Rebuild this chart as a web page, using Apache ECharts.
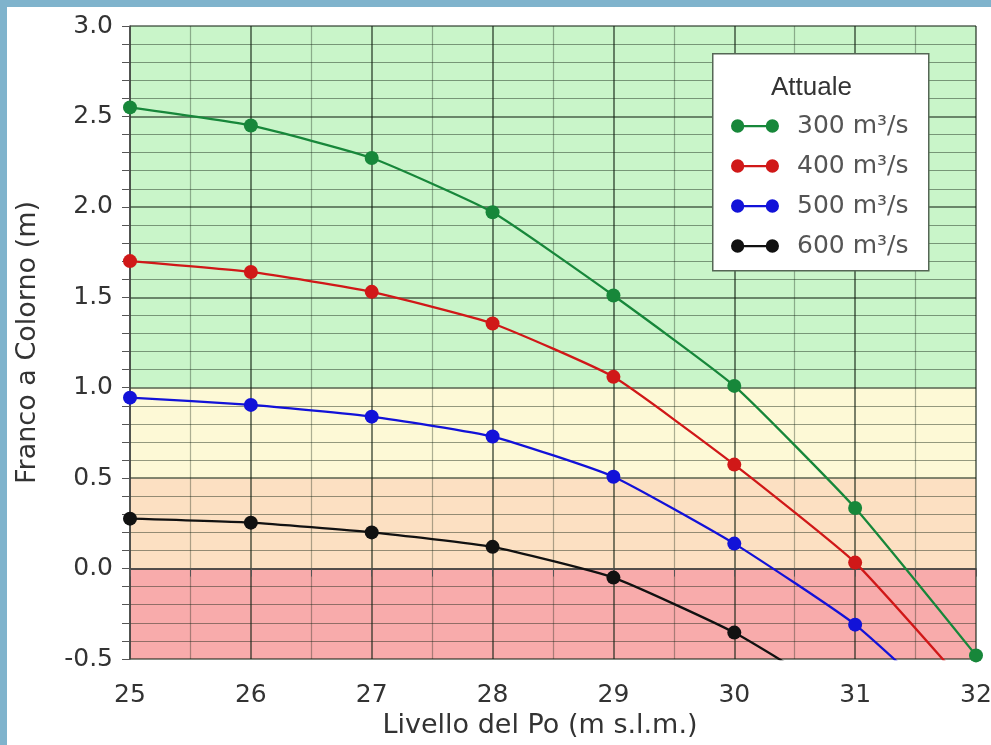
<!DOCTYPE html>
<html><head><meta charset="utf-8">
<script src="https://cdn.jsdelivr.net/npm/echarts@6/dist/echarts.min.js"></script>
<style>html,body{margin:0;padding:0;background:#fff;}#c{width:991px;height:745px;}
#frameTop{position:absolute;left:0;top:0;width:991px;height:7px;background:#7fb3cc;z-index:5}
#frameLeft{position:absolute;left:0;top:0;width:7px;height:745px;background:#7fb3cc;z-index:5}</style>
</head><body>
<div id="frameTop"></div><div id="frameLeft"></div>
<div id="c"></div>
<script>
const levels = [25, 26, 27, 28, 29, 30, 31, 32];
const seriesNames = ['300 m³/s', '400 m³/s', '500 m³/s', '600 m³/s'];
const q300 = [2.55, 2.45, 2.27, 1.97, 1.51, 1.01, 0.335, -0.48];
const q400 = [1.70, 1.64, 1.53, 1.355, 1.06, 0.575, 0.033, -0.71];
const q500 = [0.945, 0.905, 0.84, 0.73, 0.508, 0.138, -0.31, -0.92];
const q600 = [0.276, 0.254, 0.20, 0.12, -0.05, -0.354, -0.76, -1.2];
const colors = ['#17873a', '#d01818', '#1212d8', '#111111'];
const bands = [[1.0, 3.0, '#c9f5c9'], [0.5, 1.0, '#fdf9d6'], [0.0, 0.5, '#fce0c2'], [-0.5, 0.0, '#f8abab']];

const all = [q300, q400, q500, q600];
const icon = 'path://M0.5,7 A6.5,6.5 0 1,1 13.5,7 A6.5,6.5 0 1,1 0.5,7 Z M34.5,7 A6.5,6.5 0 1,1 47.5,7 A6.5,6.5 0 1,1 34.5,7 Z M7,6 L41,6 L41,8.2 L7,8.2 Z';
const font = 'DejaVu Sans';
const series = all.map((vals, i) => ({
  name: seriesNames[i], type: 'line', smooth: 0.15,
  data: levels.map((x, j) => [x, vals[j]]),
  symbol: 'circle', symbolSize: 14, clip: true,
  lineStyle: {color: colors[i], width: 2.3},
  itemStyle: {color: colors[i]}, z: 5,
  showAllSymbol: true
}));
series.push({
  type: 'line', data: [], silent: true,
  markArea: {silent: true, data: bands.map(b => [{yAxis: b[0], itemStyle: {color: b[2]}}, {yAxis: b[1]}])}, z: 1
});
const chart = echarts.init(document.getElementById('c'));
chart.setOption({
  animation: false,
  grid: {left: 130, right: 15, top: 26, bottom: 86, outerBoundsMode: 'none', containLabel: false},
  xAxis: {
    type: 'value', min: 25, max: 32, interval: 1, z: 3,
    name: 'Livello del Po (m s.l.m.)', nameLocation: 'middle', nameGap: 44,
    nameTextStyle: {fontFamily: font, fontSize: 27, color: '#333', padding: [0, 26, 0, 0]},
    axisLine: {show: true, lineStyle: {color: '#444', width: 1.5}},
    axisTick: {show: true, length: 8, lineStyle: {color: '#555'}},
    minorTick: {show: true, splitNumber: 2, length: 8, lineStyle: {color: '#555'}},
    axisLabel: {fontFamily: font, fontSize: 25, color: '#333', margin: 24},
    splitLine: {show: true, lineStyle: {color: 'rgba(20,35,20,0.75)', width: 1.5}},
    minorSplitLine: {show: true, lineStyle: {color: 'rgba(20,35,20,0.35)', width: 1.2}}
  },
  yAxis: {
    type: 'value', min: -0.5, max: 3.0, interval: 0.5, z: 3,
    name: 'Franco a Colorno (m)', nameLocation: 'middle', nameGap: 89,
    nameTextStyle: {fontFamily: font, fontSize: 27, color: '#333'},
    axisLine: {show: true, lineStyle: {color: '#444', width: 1.5}},
    axisTick: {show: true, length: 8, lineStyle: {color: '#555'}},
    minorTick: {show: true, splitNumber: 5, length: 8, lineStyle: {color: '#555'}},
    axisLabel: {fontFamily: font, fontSize: 25, color: '#333', margin: 17, formatter: v => v.toFixed(1)},
    splitLine: {show: true, lineStyle: {color: 'rgba(20,35,20,0.7)', width: 1.5}},
    minorSplitLine: {show: true, lineStyle: {color: 'rgba(20,35,20,0.45)', width: 1.2}}
  },
  graphic: [
    {type: 'rect', left: 712, top: 53, z: 50, shape: {width: 216, height: 217},
     style: {fill: '#fff', stroke: '#556655', lineWidth: 1.5}},
    {type: 'text', left: 771, top: 75, z: 51,
     style: {text: 'Attuale', font: '26px "Liberation Sans"', fill: '#333'}}
  ],
  legend: {
    orient: 'vertical', left: 726, top: 108, z: 60,
    itemWidth: 48, itemHeight: 14, itemGap: 14, icon: icon,
    textStyle: {fontFamily: font, fontSize: 25, lineHeight: 26, color: '#555', padding: [0, 0, 0, 13]},
    data: seriesNames
  },
  series: series
});
</script>
</body></html>
